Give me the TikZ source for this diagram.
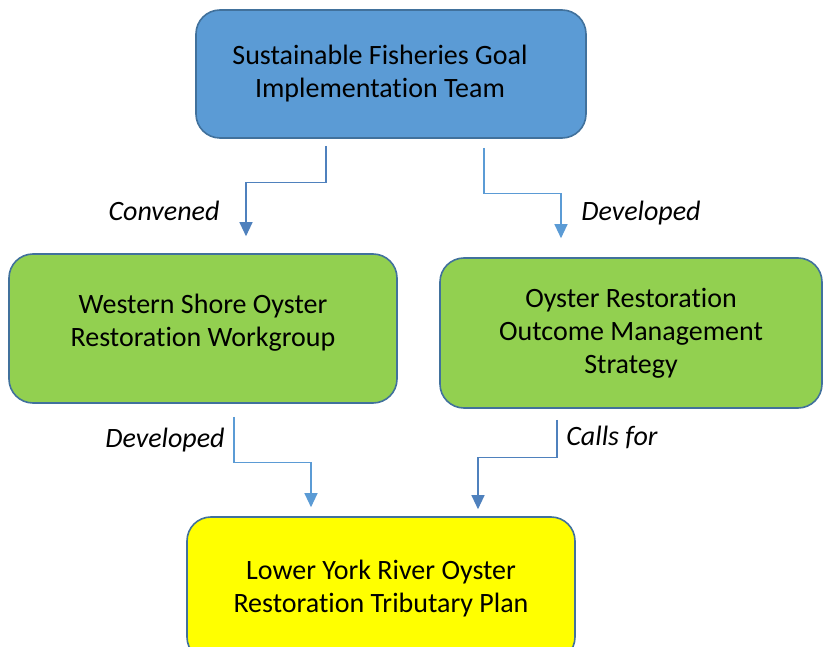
\documentclass[tikz,border=0pt]{standalone}
\usepackage{fontspec}
\setmainfont{Carlito}[Ligatures=NoCommon]
\usetikzlibrary{positioning,arrows.meta}

\definecolor{goalblue}{HTML}{5B9BD5}
\definecolor{boxedge}{HTML}{41719C}
\definecolor{wggreen}{HTML}{92D050}
\definecolor{planyellow}{HTML}{FFFF00}
\definecolor{linkblue}{HTML}{5B9BD5}
\definecolor{linkdark}{HTML}{4F81BD}

\begin{document}
\begin{tikzpicture}[x=1pt,y=-1pt]
\tikzstyle{every node}+=[font=\fontsize{28}{33}\selectfont]
\tikzstyle{box}=[draw=boxedge, line width=1.6pt, rounded corners=24pt, align=center, inner sep=0pt]
\tikzstyle{link}=[draw=linkblue, line width=1.2pt, -{Triangle[width=13pt,length=14pt]}]
\tikzstyle{tag}=[font=\fontsize{28}{33}\selectfont\itshape]
\useasboundingbox (0,0) rectangle (823,647);
\clip (0,0) rectangle (823,647);
\node [box, fill=goalblue, minimum width=390pt, minimum height=128pt] (sfgit) at (391,74) {\hspace*{-22pt}Sustainable Fisheries Goal\\\hspace*{-22pt}Implementation Team};
\node [box, fill=wggreen, minimum width=388pt, minimum height=149pt] (wsorw) at (203,328.5) {Western Shore Oyster\\Restoration Workgroup\\[-17pt]};
\node [box, fill=wggreen, minimum width=382pt, minimum height=150pt] (oroms) at (631,333) {Oyster Restoration\\Outcome Management\\Strategy};
\node [box, fill=planyellow, minimum width=388pt, minimum height=144pt] (lyrotp) at (381,589) {Lower York River Oyster\\Restoration Tributary Plan};
% connectors
\draw [link, draw=linkdark, shorten <=7pt, shorten >=17pt] (sfgit.south -| 326,0) -- ++(0,44) -| (wsorw.north -| 246,0);
\draw [link, shorten <=9pt, shorten >=19pt] (sfgit.south -| 484,0) -- ++(0,55) -| (oroms.north -| 561,0);
\draw [link, shorten <=13pt, shorten >=9pt] (wsorw.south -| 234,0) -- ++(0,59) -| (lyrotp.north -| 311,0);
\draw [link, draw=linkdark, shorten <=11pt, shorten >=7pt] (oroms.south -| 557,0) -- ++(0,49) -| (lyrotp.north -| 478,0);
% labels
\node [tag] (convened) at (164,211) {Convened};
\node [tag] (devstrat) at (641,213) {Developed};
\node [tag] (devplan) at (165,440) {Developed};
\node [tag] (callsfor) at (612,437) {Calls for};
\end{tikzpicture}
\end{document}
